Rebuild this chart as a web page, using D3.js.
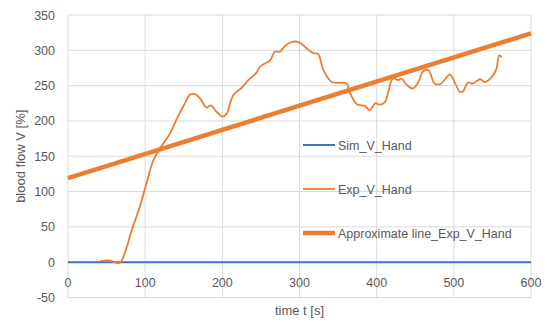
<!DOCTYPE html>
<html>
<head>
<meta charset="utf-8">
<script src="https://cdn.jsdelivr.net/npm/d3@7"></script>
<style>
  body { margin: 0; background: #fff; }
  text { font-family: "Liberation Sans", "DejaVu Sans", sans-serif; fill: #595959; }
</style>
</head>
<body>
<svg id="chart"></svg>
<script>
(function (d3) {
  'use strict';
  const width = 547;
  const height = 322;

  // series data
  const simT = [0, 600];
  const simV = [0, 0];

  const expT = [42, 54, 67, 76, 82.5, 93, 102, 110.5, 119, 132, 141, 151.5, 158, 164.5, 171, 179.6, 184.8, 192.6, 200.4, 205.5, 214, 225, 234, 244, 249, 262, 268, 275, 281, 290, 300, 309, 318, 324, 331, 342, 350, 361, 365, 374, 385, 391, 398, 404, 411, 415, 421, 428, 432, 439, 447, 454, 460, 467, 475, 482, 488, 495, 501, 508, 512, 518, 525, 534, 540, 549, 555, 559, 562];
  const expV = [2, 2.5, -1, 21, 45, 78, 113, 144, 161, 182, 203, 225, 237, 238, 232, 219, 222, 213, 206, 210, 236, 247, 258, 268, 277, 286, 298, 298, 306, 312, 311, 303, 296, 295, 272, 255, 254, 253, 241, 224, 221, 215, 225, 223, 227, 241, 260, 258, 260, 251, 246, 255, 270, 272, 253, 252, 258, 266, 255, 241, 242, 254, 253, 259, 255, 262, 273, 293, 290];

  const approxT = [0, 600];
  const approxV = [119, 324];

  const xTicks = [0, 100, 200, 300, 400, 500, 600];
  const yTicks = [-50, 0, 50, 100, 150, 200, 250, 300, 350];

  const legendNames = ['Sim_V_Hand', 'Exp_V_Hand', 'Approximate line_Exp_V_Hand'];

  const svg = d3.select('#chart').attr('width', width).attr('height', height);

  const x = d3.scaleLinear().domain([0, 600]).range([68, 531]);
  const y = d3.scaleLinear().domain([-50, 350]).range([297.5, 15]);

  // gridlines
  svg.append('g').selectAll('line').data(yTicks).enter().append('line')
    .attr('x1', x(0)).attr('x2', x(600))
    .attr('y1', d => y(d)).attr('y2', d => y(d))
    .attr('stroke', '#d9d9d9').attr('stroke-width', 1);
  svg.append('g').selectAll('line').data(xTicks).enter().append('line')
    .attr('x1', d => x(d)).attr('x2', d => x(d))
    .attr('y1', y(350)).attr('y2', y(-50))
    .attr('stroke', '#d9d9d9').attr('stroke-width', 1);

  // tick labels
  svg.append('g').selectAll('text').data(yTicks).enter().append('text')
    .attr('x', 55).attr('y', d => y(d) + 4.5)
    .attr('text-anchor', 'end').style('font-size', '12.5px')
    .text(d => d);
  svg.append('g').selectAll('text').data(xTicks).enter().append('text')
    .attr('x', d => x(d)).attr('y', y(0) + 25)
    .attr('text-anchor', 'middle').style('font-size', '12.5px')
    .text(d => d);

  // axis titles
  svg.append('text').attr('x', x(300)).attr('y', 315)
    .attr('text-anchor', 'middle').style('font-size', '13px').text('time t [s]');
  svg.append('text').attr('transform', 'translate(25,' + y(150) + ') rotate(-90)')
    .attr('text-anchor', 'middle').style('font-size', '13px').text('blood flow V [%]');

  const line = d3.line().x(d => x(d[0])).y(d => y(d[1]));
  const curve = d3.line().x(d => x(d[0])).y(d => y(d[1])).curve(d3.curveCatmullRom);

  svg.append('path').datum(d3.zip(simT, simV)).attr('d', line)
    .attr('fill', 'none').attr('stroke', '#4472c4').attr('stroke-width', 2);
  svg.append('path').datum(d3.zip(expT, expV)).attr('d', curve)
    .attr('fill', 'none').attr('stroke', '#ed7d31').attr('stroke-width', 1.8)
    .attr('stroke-linejoin', 'round');
  svg.append('path').datum(d3.zip(approxT, approxV)).attr('d', line)
    .attr('fill', 'none').attr('stroke', '#ed7d31').attr('stroke-width', 4.5);

  // legend
  const legendStyles = [
    { color: '#4472c4', w: 2 },
    { color: '#ed7d31', w: 1.8 },
    { color: '#ed7d31', w: 4.5 }
  ];
  const legendY = [145, 189, 233];
  const lg = svg.append('g').selectAll('g').data(legendNames).enter().append('g');
  lg.append('line')
    .attr('x1', 303).attr('x2', 335)
    .attr('y1', (d, i) => legendY[i]).attr('y2', (d, i) => legendY[i])
    .attr('stroke', (d, i) => legendStyles[i].color)
    .attr('stroke-width', (d, i) => legendStyles[i].w);
  lg.append('text')
    .attr('x', 338).attr('y', (d, i) => legendY[i] + 4.5)
    .style('font-size', '12.5px')
    .text(d => d);
}(d3));
</script>
</body>
</html>
